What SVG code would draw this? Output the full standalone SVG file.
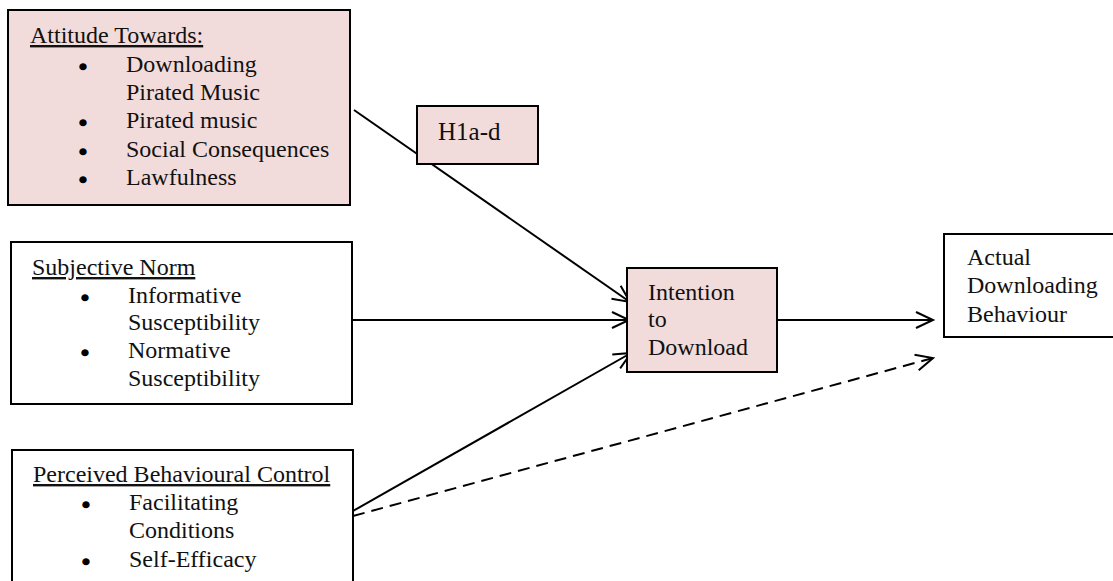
<svg xmlns="http://www.w3.org/2000/svg" width="1113" height="581" viewBox="0 0 1113 581">
  <style>
    .box { stroke: #000; stroke-width: 2; }
    .pink { fill: #f2dcdb; }
    .white { fill: #fff; }
    .t { font-family: "Liberation Serif", "Times New Roman", serif; font-size: 24px; fill: #111; }
    .h { font-size: 25px; }
    .u { text-decoration: underline; }
    .b { font-family: "Liberation Serif", "Times New Roman", serif; font-size: 24px; fill: #000; stroke: #000; stroke-width: 1.6; text-anchor: middle; }
    .link { stroke: #000; stroke-width: 2; fill: none; marker-end: url(#open); }
    .dash { stroke-dasharray: 12 7; }
  </style>
  <defs>
    <marker id="open" markerUnits="userSpaceOnUse" markerWidth="24" markerHeight="24" refX="18" refY="9" orient="auto">
      <path d="M1,1 L18,9 L1,17" fill="none" stroke="#000" stroke-width="2"/>
    </marker>
  </defs>
  <rect width="1113" height="581" fill="#fff"/>

  <!-- connectors -->
  <g id="connectors">
    <line class="link" x1="354" y1="110" x2="630" y2="302"/>
    <line class="link" x1="353" y1="320" x2="629" y2="320"/>
    <line class="link" x1="353" y1="511" x2="631" y2="353"/>
    <line class="link" x1="777" y1="320" x2="933" y2="320"/>
    <line class="link dash" x1="353" y1="516" x2="933" y2="358"/>
  </g>

  <g id="attitude">
    <rect class="box pink" x="8" y="10" width="342" height="195"/>
    <text class="t u" x="30" y="43">Attitude Towards:</text>
    <text class="b" x="83" y="75">•</text>
    <text class="t" x="126" y="72">Downloading</text>
    <text class="t" x="126" y="100">Pirated Music</text>
    <text class="b" x="83" y="131">•</text>
    <text class="t" x="126" y="128">Pirated music</text>
    <text class="b" x="83" y="160">•</text>
    <text class="t" x="126" y="157">Social Consequences</text>
    <text class="b" x="83" y="188">•</text>
    <text class="t" x="126" y="185">Lawfulness</text>
  </g>

  <g id="hypothesis">
    <rect class="box pink" x="417" y="106" width="121" height="58"/>
    <text class="t h" x="438" y="140">H1a-d</text>
  </g>

  <g id="subjective-norm">
    <rect class="box white" x="11" y="242" width="341" height="162"/>
    <text class="t u" x="32" y="275">Subjective Norm</text>
    <text class="b" x="85" y="306">•</text>
    <text class="t" x="128" y="303">Informative</text>
    <text class="t" x="128" y="330">Susceptibility</text>
    <text class="b" x="85" y="361">•</text>
    <text class="t" x="128" y="358">Normative</text>
    <text class="t" x="128" y="386">Susceptibility</text>
  </g>

  <g id="perceived-control">
    <rect class="box white" x="12" y="450" width="341" height="140"/>
    <text class="t u" x="33" y="482">Perceived Behavioural Control</text>
    <text class="b" x="86" y="513">•</text>
    <text class="t" x="129" y="510">Facilitating</text>
    <text class="t" x="129" y="538">Conditions</text>
    <text class="b" x="86" y="570">•</text>
    <text class="t" x="129" y="567">Self-Efficacy</text>
  </g>

  <g id="intention">
    <rect class="box pink" x="627" y="268" width="150" height="104"/>
    <text class="t" x="648" y="300">Intention</text>
    <text class="t" x="648" y="327">to</text>
    <text class="t" x="648" y="355">Download</text>
  </g>

  <g id="behaviour">
    <rect class="box white" x="944" y="234" width="180" height="103"/>
    <text class="t" x="967" y="265">Actual</text>
    <text class="t" x="967" y="293">Downloading</text>
    <text class="t" x="967" y="322">Behaviour</text>
  </g>
</svg>
